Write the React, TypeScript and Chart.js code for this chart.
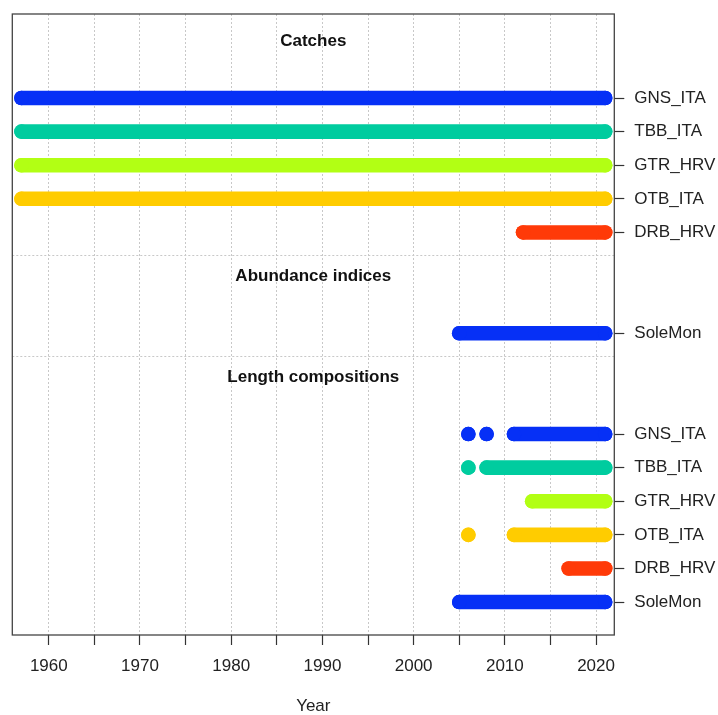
import React, { useEffect, useRef } from "react";
import { Chart, registerables } from "chart.js";

Chart.register(...registerables);

// ---- data ----
const xMin = 1956;
const xMax = 2022;
const xTickValues = [1960, 1965, 1970, 1975, 1980, 1985, 1990, 1995, 2000, 2005, 2010, 2015, 2020];
const xAxisTitle = "Year";

const catchFleets = ["GNS_ITA", "TBB_ITA", "GTR_HRV", "OTB_ITA", "DRB_HRV"];
const catchRows = [16, 15, 14, 13, 12];
const catchRanges = [
  [[1957, 2021]],
  [[1957, 2021]],
  [[1957, 2021]],
  [[1957, 2021]],
  [[2012, 2021]],
];

const surveyNames = ["SoleMon"];
const surveyRows = [9];
const surveyRanges = [[[2005, 2021]]];

const lengthFleets = ["GNS_ITA", "TBB_ITA", "GTR_HRV", "OTB_ITA", "DRB_HRV", "SoleMon"];
const lengthRows = [6, 5, 4, 3, 2, 1];
const lengthRanges = [
  [[2006, 2006], [2008, 2008], [2011, 2021]],
  [[2006, 2006], [2008, 2021]],
  [[2013, 2021]],
  [[2006, 2006], [2011, 2021]],
  [[2017, 2021]],
  [[2005, 2021]],
];

const sectionTitles = ["Catches", "Abundance indices", "Length compositions"];
const sectionTitleRows = [17.7, 10.7, 7.7];
const separatorRows = [11.33, 8.33];
const yMin = 0.02;
const yMax = 18.5;

// ---- styles ----
const fleetColors: Record<string, string> = {
  GNS_ITA: "#0630f6",
  TBB_ITA: "#00cc9f",
  GTR_HRV: "#b2ff14",
  OTB_ITA: "#ffcc00",
  DRB_HRV: "#ff3a08",
  SoleMon: "#0630f6",
};
const FONT = "'Liberation Sans', Arial, Helvetica, sans-serif";
const BAR_W = 14.6;

function buildDatasets() {
  const groups = [
    { names: catchFleets, rows: catchRows, ranges: catchRanges },
    { names: surveyNames, rows: surveyRows, ranges: surveyRanges },
    { names: lengthFleets, rows: lengthRows, ranges: lengthRanges },
  ];
  const ds: any[] = [];
  groups.forEach((g) => {
    g.names.forEach((name, i) => {
      const row = g.rows[i];
      g.ranges[i].forEach(([a, b]) => {
        const color = fleetColors[name];
        const data = a === b ? [{ x: a, y: row }] : [{ x: a, y: row }, { x: b, y: row }];
        ds.push({
          type: "line",
          label: name,
          data,
          showLine: true,
          borderColor: color,
          backgroundColor: color,
          borderWidth: BAR_W,
          borderCapStyle: "round",
          borderJoinStyle: "round",
          pointRadius: BAR_W / 2,
          pointHoverRadius: BAR_W / 2,
          pointBackgroundColor: color,
          pointBorderWidth: 0,
          fill: false,
          clip: false,
        });
      });
    });
  });
  return ds;
}

const rowLabelMap: Record<number, string> = {};
catchRows.forEach((r, i) => (rowLabelMap[r] = catchFleets[i]));
surveyRows.forEach((r, i) => (rowLabelMap[r] = surveyNames[i]));
lengthRows.forEach((r, i) => (rowLabelMap[r] = lengthFleets[i]));
const allRows = [...catchRows, ...surveyRows, ...lengthRows];

const overlayPlugin = {
  id: "overlay",
  beforeDatasetsDraw(chart: any) {
    const { ctx, chartArea } = chart;
    const y = chart.scales.y;
    ctx.save();
    ctx.strokeStyle = "#c8c8c8";
    ctx.lineWidth = 1;
    ctx.setLineDash([2, 2]);
    separatorRows.forEach((r) => {
      const py = Math.round(y.getPixelForValue(r)) + 0.5;
      ctx.beginPath();
      ctx.moveTo(chartArea.left, py);
      ctx.lineTo(chartArea.right, py);
      ctx.stroke();
    });
    ctx.restore();
  },
  afterDraw(chart: any) {
    const { ctx, chartArea } = chart;
    const y = chart.scales.y;
    ctx.save();
    ctx.strokeStyle = "#444";
    ctx.lineWidth = 1.3;
    ctx.setLineDash([]);
    ctx.strokeRect(chartArea.left, chartArea.top, chartArea.right - chartArea.left, chartArea.bottom - chartArea.top);
    const cx = (chartArea.left + chartArea.right) / 2;
    ctx.fillStyle = "#111";
    ctx.textAlign = "center";
    ctx.textBaseline = "middle";
    ctx.font = `bold 17px ${FONT}`;
    sectionTitles.forEach((t, i) => {
      ctx.fillText(t, cx, y.getPixelForValue(sectionTitleRows[i]));
    });
    ctx.font = `17px ${FONT}`;
    ctx.fillStyle = "#222";
    ctx.fillText(xAxisTitle, cx, 706);
    ctx.restore();
  },
};

export default function App() {
  const ref = useRef<HTMLCanvasElement | null>(null);
  useEffect(() => {
    if (!ref.current) return;
    const chart = new Chart(ref.current, {
      type: "scatter",
      data: { datasets: buildDatasets() },
      options: {
        responsive: false,
        animation: false,
        events: [],
        layout: { padding: { left: 12.3, top: 14, right: 0, bottom: 0 } },
        plugins: { legend: { display: false }, tooltip: { enabled: false }, title: { display: false } },
        scales: {
          x: {
            type: "linear",
            position: "bottom",
            min: xMin,
            max: xMax,
            afterBuildTicks: (s: any) => {
              s.ticks = xTickValues.map((v) => ({ value: v }));
            },
            afterFit: (s: any) => {
              s.height = 80;
              s.paddingLeft = 0;
              s.paddingRight = 0;
            },
            ticks: {
              autoSkip: false,
              maxRotation: 0,
              padding: 11,
              color: "#222",
              font: { family: FONT, size: 17 },
              callback: (v: any) => (Number(v) % 10 === 0 ? String(v) : ""),
            },
            grid: {
              color: "#c8c8c8",
              lineWidth: 1,
              tickLength: 10,
              tickColor: "#333",
              tickWidth: 1.2,
              tickBorderDash: [],
            },
            border: { display: false, dash: [2, 2] },
          },
          y: {
            type: "linear",
            position: "right",
            min: yMin,
            max: yMax,
            afterBuildTicks: (s: any) => {
              s.ticks = allRows.map((v) => ({ value: v }));
            },
            afterFit: (s: any) => {
              s.width = 718 - 614.3;
              s.paddingTop = 0;
              s.paddingBottom = 0;
            },
            ticks: {
              autoSkip: false,
              padding: 10,
              color: "#222",
              font: { family: FONT, size: 17 },
              callback: (v: any) => rowLabelMap[Number(v)] ?? "",
            },
            grid: {
              drawOnChartArea: false,
              tickLength: 10,
              tickColor: "#333",
              tickWidth: 1.2,
            },
            border: { display: false },
          },
        },
      } as any,
      plugins: [overlayPlugin],
    });
    return () => chart.destroy();
  }, []);
  return (
    <div style={{ position: "fixed", left: 0, top: 0, width: 718, height: 715, background: "#fff" }}>
      <canvas ref={ref} width={718} height={715} style={{ width: 718, height: 715, display: "block" }} />
    </div>
  );
}
